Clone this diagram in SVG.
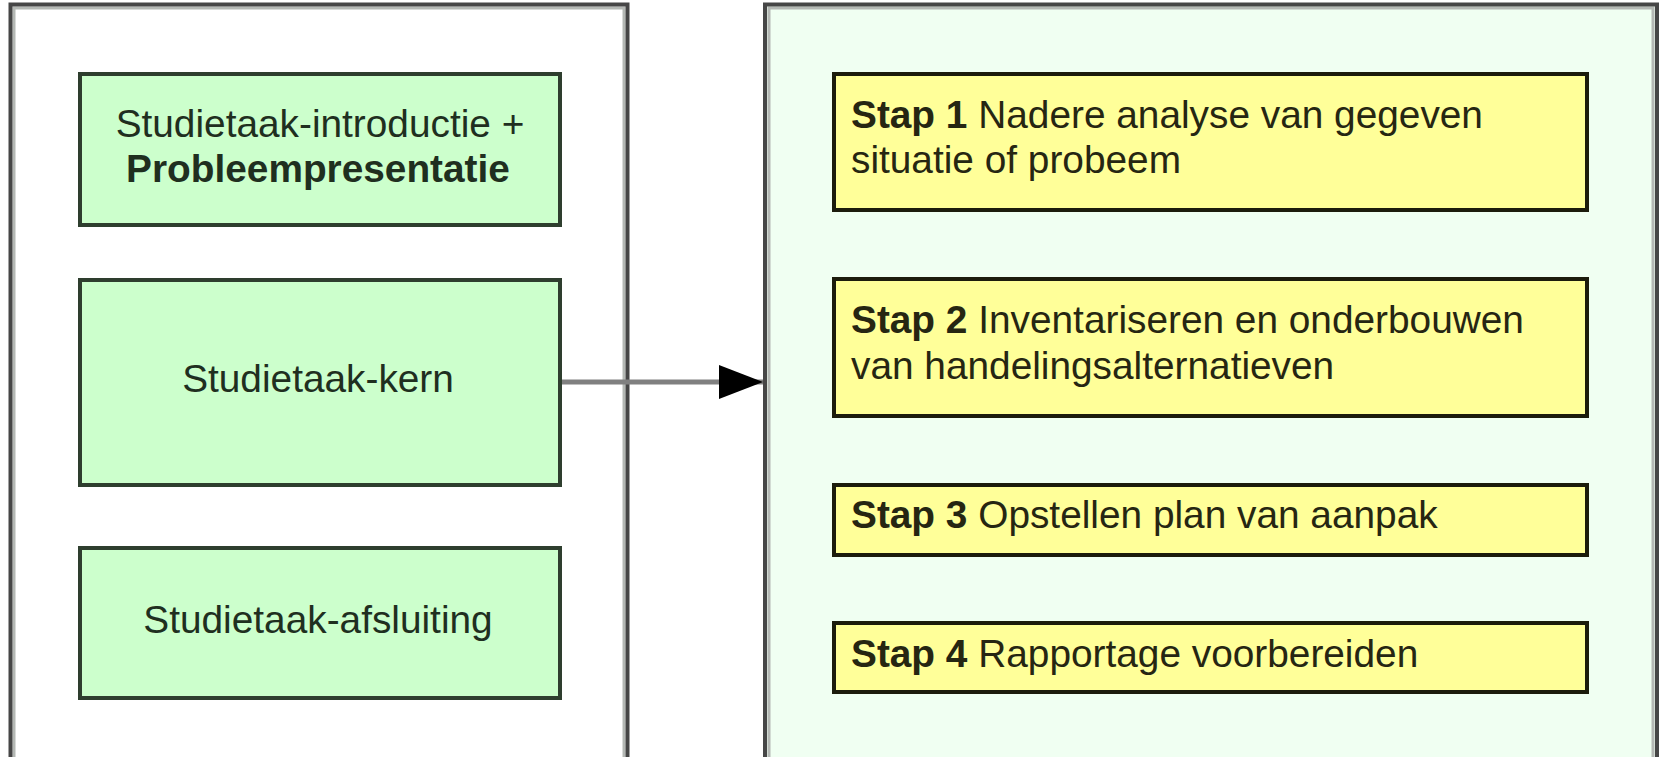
<svg xmlns="http://www.w3.org/2000/svg" width="1660" height="757" viewBox="0 0 1660 757">
  <style>
    .frame-dark { fill: none; stroke: #464646; stroke-width: 4; }
    .frame-light { fill: none; stroke: #b4b8b4; stroke-width: 3; }
    .bg-left { fill: #ffffff; stroke: none; }
    .bg-right { fill: #f0fff2; stroke: none; }
    .phase { fill: #ccffcc; stroke: #2e3e2e; stroke-width: 4; }
    .step { fill: #ffff99; stroke: #1c1c0c; stroke-width: 4; }
    .label { font-family: "Liberation Sans", Arial, sans-serif; font-size: 38.8px; }
    .phase-text { fill: #1f2f1f; text-anchor: middle; }
    .step-text { fill: #262612; }
    .b { font-weight: bold; }
    .conn { stroke: #808080; stroke-width: 5; fill: none; }
  </style>
  <defs>
    <marker id="arrowhead" markerUnits="userSpaceOnUse" markerWidth="46" markerHeight="36" refX="44" refY="17" orient="auto">
      <path d="M0,0 L44,17 L0,34 Z" fill="#000000"/>
    </marker>
  </defs>

  <rect width="1660" height="757" fill="#ffffff"/>

  <!-- left container: study task phases -->
  <g id="phases-frame">
    <rect x="10.5" y="4.5" width="617" height="800" class="bg-left"/>
    <rect x="14" y="8" width="610" height="800" class="frame-light"/>
    <rect x="10.5" y="4.5" width="617" height="800" class="frame-dark"/>
  </g>

  <!-- right container: steps of the core -->
  <g id="steps-frame">
    <rect x="765" y="4.5" width="892" height="800" class="bg-right"/>
    <rect x="769" y="8" width="884" height="800" class="frame-light"/>
    <rect x="765" y="4.5" width="892" height="800" class="frame-dark"/>
  </g>

  <g id="intro">
    <rect x="80" y="74" width="480" height="151" class="phase"/>
    <text class="label phase-text" x="320" y="137">Studietaak-introductie +</text>
    <text class="label phase-text b" x="318" y="182">Probleempresentatie</text>
  </g>

  <g id="kern">
    <rect x="80" y="280" width="480" height="205" class="phase"/>
    <text class="label phase-text" x="318" y="392">Studietaak-kern</text>
  </g>

  <g id="afsluiting">
    <rect x="80" y="548" width="480" height="150" class="phase"/>
    <text class="label phase-text" x="318" y="633">Studietaak-afsluiting</text>
  </g>

  <g id="stap1">
    <rect x="834" y="74" width="753" height="136" class="step"/>
    <text class="label step-text" x="851" y="128"><tspan class="b">Stap 1</tspan> Nadere analyse van gegeven</text>
    <text class="label step-text" x="851" y="173">situatie of probeem</text>
  </g>

  <g id="stap2">
    <rect x="834" y="279" width="753" height="137" class="step"/>
    <text class="label step-text" x="851" y="333"><tspan class="b">Stap 2</tspan> Inventariseren en onderbouwen</text>
    <text class="label step-text" x="851" y="379">van handelingsalternatieven</text>
  </g>

  <g id="stap3">
    <rect x="834" y="485" width="753" height="70" class="step"/>
    <text class="label step-text" x="851" y="528"><tspan class="b">Stap 3</tspan> Opstellen plan van aanpak</text>
  </g>

  <g id="stap4">
    <rect x="834" y="623" width="753" height="69" class="step"/>
    <text class="label step-text" x="851" y="667"><tspan class="b">Stap 4</tspan> Rapportage voorbereiden</text>
  </g>

  <g id="connectors">
    <line x1="562" y1="382" x2="763" y2="382" class="conn" marker-end="url(#arrowhead)"/>
  </g>
</svg>
